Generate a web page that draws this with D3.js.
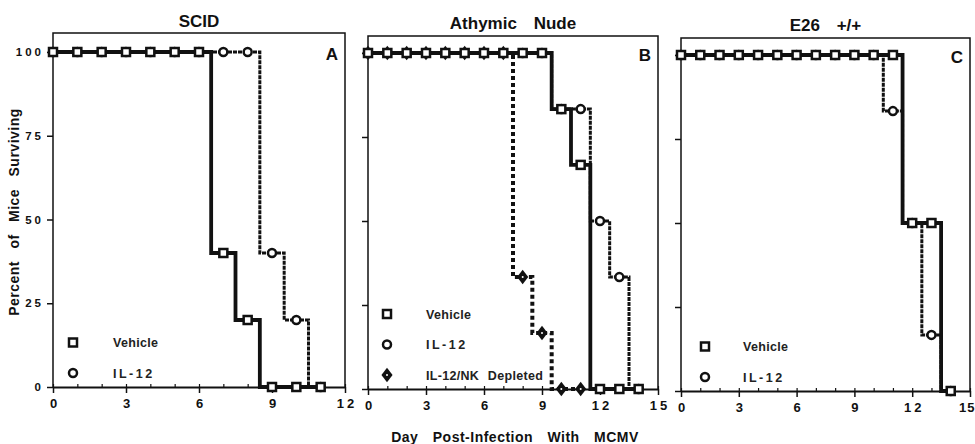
<!DOCTYPE html>
<html><head><meta charset="utf-8">
<script src="https://cdn.jsdelivr.net/npm/d3@7"></script>
<style>body{margin:0;background:#fff} svg{display:block;font-family:"Liberation Sans",Arial,sans-serif}</style>
</head><body><svg id="c" width="975" height="444"></svg>
<script>
// ---- data ----
const panelTitles = ["SCID", "Athymic Nude", "E26 +/+"];
const panelLetters = ["A", "B", "C"];
const panelXMax = [12, 15, 15];
const yTickValues = [0, 25, 50, 75, 100];
const xTickValuesA = [0, 3, 6, 9, 12];
const xTickValuesBC = [0, 3, 6, 9, 12, 15];
const seriesNames = ["Vehicle", "IL-12", "IL-12/NK Depleted"];

const scidDays    = [0, 1, 2, 3, 4, 5, 6, 7, 8, 9, 10, 11];
const scidVehicle = [100, 100, 100, 100, 100, 100, 100, 40, 20, 0, 0, 0];
const scidIL12    = [100, 100, 100, 100, 100, 100, 100, 100, 100, 40, 20, 0];

const nudeDays    = [0, 1, 2, 3, 4, 5, 6, 7, 8, 9, 10, 11, 12, 13, 14];
const nudeVehicle = [100, 100, 100, 100, 100, 100, 100, 100, 100, 100, 83.3, 66.7, 0, 0, 0];
const nudeIL12    = [100, 100, 100, 100, 100, 100, 100, 100, 100, 100, 83.3, 83.3, 50, 33.3, 0];
const nudeNKDays  = [0, 1, 2, 3, 4, 5, 6, 7, 8, 9, 10, 11];
const nudeNK      = [100, 100, 100, 100, 100, 100, 100, 100, 33.3, 16.7, 0, 0];

const e26Days     = [0, 1, 2, 3, 4, 5, 6, 7, 8, 9, 10, 11, 12, 13, 14];
const e26Vehicle  = [100, 100, 100, 100, 100, 100, 100, 100, 100, 100, 100, 100, 50, 50, 0];
const e26IL12     = [100, 100, 100, 100, 100, 100, 100, 100, 100, 100, 100, 83.3, 50, 16.7, 0];

// ---- build ----
const zip = (xs, ys) => xs.map((d, i) => [d, ys[i]]);
const panels = [
  { series: [
      { name: seriesNames[0], pts: zip(scidDays, scidVehicle) },
      { name: seriesNames[1], pts: zip(scidDays, scidIL12) } ],
    legend: [0, 1], xTicks: xTickValuesA },
  { series: [
      { name: seriesNames[0], pts: zip(nudeDays, nudeVehicle) },
      { name: seriesNames[1], pts: zip(nudeDays, nudeIL12) },
      { name: seriesNames[2], pts: zip(nudeNKDays, nudeNK) } ],
    legend: [0, 1, 2], xTicks: xTickValuesBC },
  { series: [
      { name: seriesNames[0], pts: zip(e26Days, e26Vehicle) },
      { name: seriesNames[1], pts: zip(e26Days, e26IL12) } ],
    legend: [0, 1], xTicks: xTickValuesBC }
];
const geo = [
  { x0: 53, x1: 345, yTop: 52, yBot: 387, fTop: 33, tY: 27, legX: 20, txtX: 60 },
  { x0: 368, x1: 658, yTop: 53, yBot: 389, fTop: 36, tY: 29, legX: 19, txtX: 58 },
  { x0: 681, x1: 970, yTop: 55, yBot: 391, fTop: 38, tY: 31, legX: 24, txtX: 62 }
];
const styles = {
  "Vehicle": { w: 3.8, dash: null },
  "IL-12": { w: 3, dash: "4,1" },
  "IL-12/NK Depleted": { w: 4, dash: "4,3" }
};
const ink = "#111";
const svg = d3.select("#c");

function marker(g, name, cx, cy) {
  if (name === "Vehicle") {
    g.append("rect").attr("x", cx - 4).attr("y", cy - 4).attr("width", 8).attr("height", 8)
      .attr("fill", "#fff").attr("stroke", ink).attr("stroke-width", 2.5);
  } else if (name === "IL-12") {
    g.append("circle").attr("cx", cx).attr("cy", cy).attr("r", 4)
      .attr("fill", "#fff").attr("stroke", ink).attr("stroke-width", 2.5);
  } else {
    g.append("path").attr("d", d3.symbol(d3.symbolDiamond, 75)())
      .attr("transform", `translate(${cx},${cy}) scale(1.2,0.9)`).attr("fill", ink);
    g.append("circle").attr("cx", cx).attr("cy", cy).attr("r", 1).attr("fill", "#fff");
  }
}

panels.forEach((p, pi) => {
  const G = geo[pi];
  const x = d3.scaleLinear().domain([0, panelXMax[pi]]).range([G.x0, G.x1]);
  const y = d3.scaleLinear().domain([0, 100]).range([G.yBot, G.yTop]);
  const g = svg.append("g");

  // frame
  g.append("path").attr("d", `M${G.x0},${G.yBot}V${G.fTop}H${G.x1}V${G.yBot}`)
    .attr("fill", "none").attr("stroke", ink).attr("stroke-width", 1.5);

  // y axis
  const ya = g.append("g").attr("transform", `translate(${G.x0},0)`)
    .call(d3.axisLeft(y).tickValues(yTickValues).tickSize(6).tickPadding(3));
  ya.select(".domain").remove();
  ya.selectAll(".tick line").attr("stroke", ink).attr("stroke-width", 1.5);
  if (pi === 0) {
    ya.selectAll(".tick text").attr("font-size", 11.5).attr("font-weight", "bold")
      .attr("letter-spacing", "3px").attr("fill", ink).attr("font-family", "Liberation Sans");
  } else {
    ya.selectAll(".tick text").remove();
  }

  // x axis: minor (inward) and major (outward)
  const days = d3.range(0, panelXMax[pi] + 1);
  const xm = g.append("g").attr("transform", `translate(0,${G.yBot})`)
    .call(d3.axisBottom(x).tickValues(days).tickSize(-3).tickFormat(""));
  xm.select(".domain").remove();
  xm.selectAll(".tick line").attr("stroke", ink).attr("stroke-width", 1.2);
  const xa = g.append("g").attr("transform", `translate(0,${G.yBot})`)
    .call(d3.axisBottom(x).tickValues(p.xTicks).tickSize(6).tickPadding(6).tickSizeOuter(0));
  xa.select(".domain").attr("stroke", ink).attr("stroke-width", 2.2);
  xa.selectAll(".tick line").attr("stroke", ink).attr("stroke-width", 1.5);
  xa.selectAll(".tick text").attr("font-size", 13).attr("font-weight", "bold")
    .attr("letter-spacing", "3px").attr("fill", ink).attr("font-family", "Liberation Sans")
    .attr("dx", "1.5px");
  if (pi === 2) {
    // keep the last label inside the picture
    xa.selectAll(".tick text").filter(d => d === 15)
      .attr("text-anchor", "end").attr("dx", "5px").attr("letter-spacing", "1px");
  }

  // title & letter
  g.append("text").attr("x", (G.x0 + G.x1) / 2).attr("y", G.tY).attr("text-anchor", "middle")
    .attr("font-size", 17).attr("font-weight", "bold").attr("word-spacing", "12px")
    .attr("fill", ink).text(panelTitles[pi]);
  g.append("text").attr("x", G.x1 - 13).attr("y", G.yTop + 8).attr("text-anchor", "middle")
    .attr("font-size", 17).attr("font-weight", "bold").attr("fill", ink).text(panelLetters[pi]);

  // lines (IL-12 and NK first, vehicle on top)
  const line = d3.line().x(d => x(d[0])).y(d => y(d[1])).curve(d3.curveStep);
  const order = [1, 2, 0].filter(i => i < p.series.length);
  order.forEach(i => {
    const s = p.series[i], st = styles[s.name];
    g.append("path").attr("d", line(s.pts)).attr("fill", "none").attr("stroke", ink)
      .attr("stroke-width", st.w).attr("stroke-dasharray", st.dash)
      .attr("stroke-linejoin", "miter").attr("stroke-linecap", "butt");
  });
  // markers: circles, diamonds, then squares
  order.forEach(i => {
    const s = p.series[i];
    s.pts.forEach(d => marker(g, s.name, x(d[0]), y(d[1])));
  });

  // legend
  const n = p.legend.length;
  p.legend.forEach((si, k) => {
    const ly = G.yBot - 14 - 30.5 * (n - 1 - k);
    marker(g, seriesNames[si], G.x0 + G.legX, ly);
    g.append("text").attr("x", G.x0 + G.txtX).attr("y", ly + 4.5)
      .attr("font-size", 12.5).attr("font-weight", "bold").attr("fill", "#222")
      .attr("letter-spacing", seriesNames[si] === "IL-12" ? "2.5px" : "0.3px")
      .attr("word-spacing", "5px")
      .text(seriesNames[si]);
  });
});

// shared axis labels
svg.append("text").attr("transform", "translate(19,212) rotate(-90)").attr("text-anchor", "middle")
  .attr("font-size", 14).attr("font-weight", "bold").attr("letter-spacing", "0.5px")
  .attr("word-spacing", "8px").attr("fill", ink).text("Percent of Mice Surviving");
svg.append("text").attr("x", 515).attr("y", 442).attr("text-anchor", "middle")
  .attr("font-size", 14).attr("font-weight", "bold").attr("letter-spacing", "0.5px")
  .attr("word-spacing", "10px").attr("fill", ink).text("Day Post-Infection With MCMV");
</script></body></html>
